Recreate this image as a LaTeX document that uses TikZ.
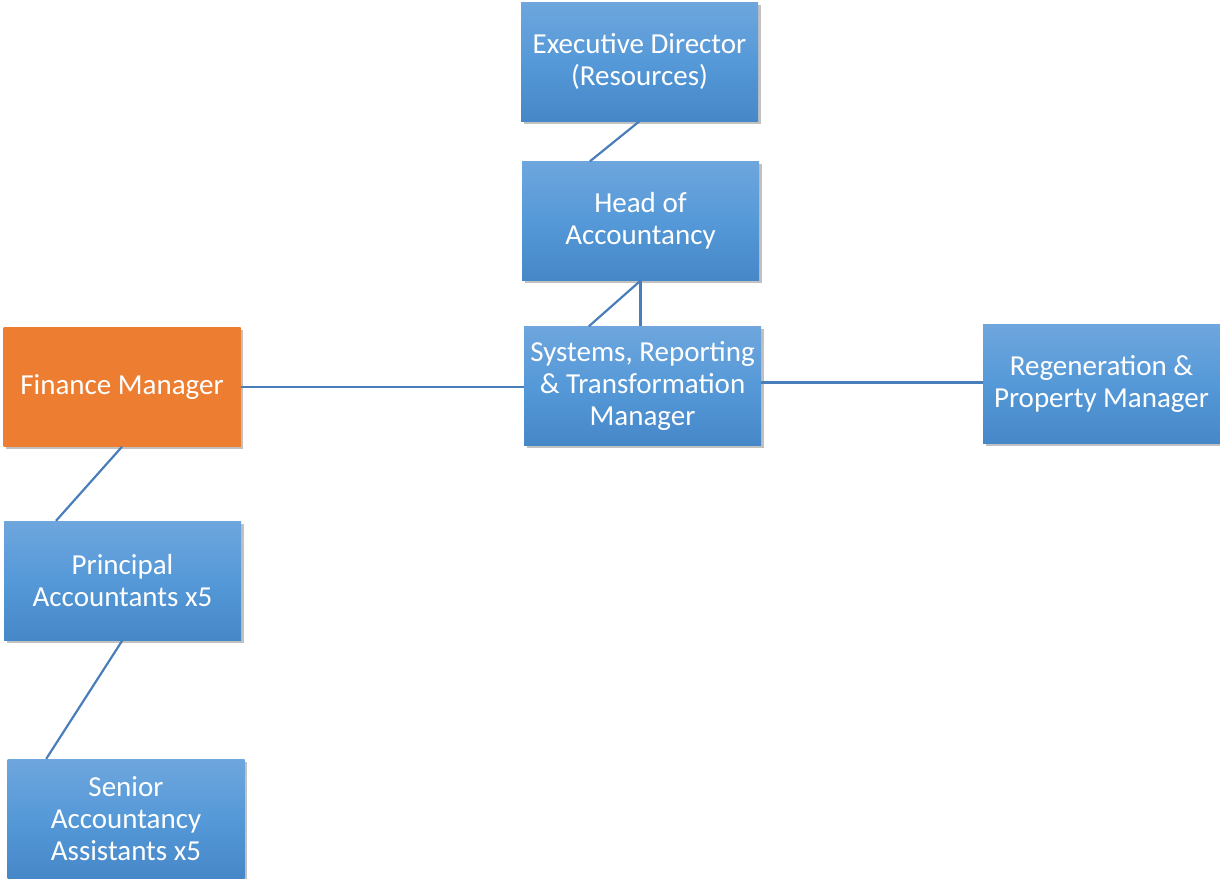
\documentclass[tikz,border=0pt]{standalone}
\usepackage{fontspec}
\setmainfont{Carlito}
\usetikzlibrary{shadows,calc}
\definecolor{bxtop}{HTML}{6EA6DD}
\definecolor{bxmid}{HTML}{5599D8}
\definecolor{bxbot}{HTML}{4687C8}
\definecolor{orng}{HTML}{ED7D31}
\definecolor{lnc}{HTML}{4A7EBB}
\tikzset{
  box/.style={rectangle, minimum width=237pt, minimum height=119pt, inner sep=1pt,
    text=white, align=center, font=\fontsize{29}{32}\selectfont,
    top color=bxtop, bottom color=bxbot, middle color=bxmid,
    drop shadow={shadow xshift=2.5pt, shadow yshift=-2.5pt, opacity=0.35, fill=black!70}},
  obox/.style={box, fill=orng, top color=orng, bottom color=orng, middle color=orng},
  link/.style={draw=lnc, line width=2.2pt}
}
\begin{document}
\begin{tikzpicture}[x=1pt,y=-1pt]
\useasboundingbox (0,0) rectangle (1220,878);
\node[box] (exec) at (639.5,61.5) {Executive Director\\(Resources)};
\node[box] (head) at (640.5,221) {Head of\\Accountancy};
\node[box] (sys) at (642.5,386) {Systems, Reporting\\\& Transformation\\Manager};
\node[obox] (fin) at (122,387) {Finance Manager};
\node[box] (regen) at (1101.5,384) {Regeneration \&\\Property Manager};
\node[box] (prin) at (122.5,580.5) {Principal\\Accountants x5};
\node[box] (sen) at (126,818.5) {Senior\\Accountancy\\Assistants x5};
\draw[link] (exec.south) -- ($(head.north west)!0.287!(head.north east)$);
\draw[link] (head.south) -- ($(sys.north west)!0.274!(sys.north east)$);
\draw[link] (head.south) -- (head.south |- sys.north);
\draw[link] (fin.east) -- (fin.east -| sys.west);
\draw[link] ([yshift=1.5pt]regen.west -| sys.east) -- ([yshift=1.5pt]regen.west);
\draw[link] (fin.south) -- ($(prin.north west)!0.22!(prin.north east)$);
\draw[link] (prin.south) -- ($(sen.north west)!0.164!(sen.north east)$);
\end{tikzpicture}
\end{document}
